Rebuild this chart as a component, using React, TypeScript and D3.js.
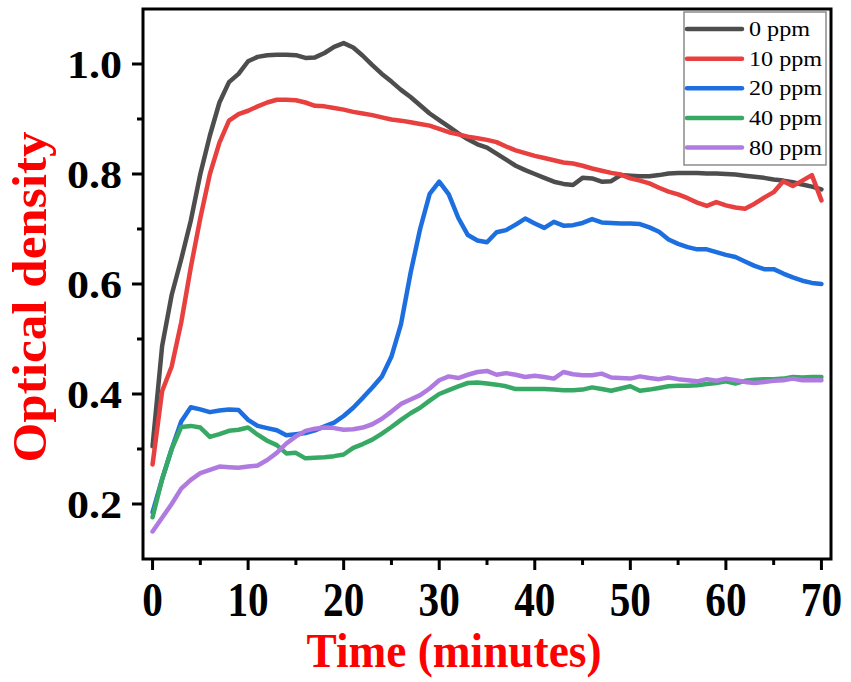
import { useEffect, useRef } from "react";
import * as d3 from "d3";

// time points, one reading per minute
const minutes = Array.from({ length: 71 }, (_, i) => i);

const od0ppm = [
  0.305, 0.487, 0.58, 0.645, 0.715, 0.8, 0.87, 0.93, 0.967, 0.982,
  1.005, 1.013, 1.016, 1.017, 1.017, 1.016, 1.011, 1.012, 1.02, 1.031,
  1.038, 1.03, 1.015, 0.998, 0.982, 0.968, 0.953, 0.94, 0.925, 0.91,
  0.898, 0.886, 0.874, 0.863, 0.854, 0.848, 0.837, 0.826, 0.815, 0.807,
  0.8, 0.793, 0.786, 0.782, 0.78, 0.793, 0.792, 0.786, 0.787, 0.798,
  0.797, 0.796, 0.796, 0.798, 0.801, 0.802, 0.802, 0.802, 0.801, 0.801,
  0.8, 0.799, 0.797, 0.795, 0.793, 0.79, 0.788, 0.785, 0.781, 0.777, 0.772,
];
const od10ppm = [
  0.272, 0.405, 0.45, 0.53, 0.63, 0.72, 0.8, 0.857, 0.897, 0.909,
  0.915, 0.923, 0.93, 0.935, 0.935, 0.934, 0.93, 0.924, 0.923, 0.92,
  0.917, 0.913, 0.91, 0.907, 0.903, 0.899, 0.897, 0.894, 0.891, 0.888,
  0.882, 0.876, 0.872, 0.868, 0.865, 0.862, 0.858, 0.85, 0.843, 0.838,
  0.833, 0.829, 0.825, 0.821, 0.819, 0.815, 0.81, 0.806, 0.802, 0.799,
  0.792, 0.788, 0.783, 0.775, 0.768, 0.763, 0.756, 0.748, 0.742, 0.749,
  0.743, 0.739, 0.737, 0.746, 0.757, 0.767, 0.787, 0.778, 0.788, 0.798, 0.752,
];
const od20ppm = [
  0.185, 0.245, 0.3, 0.35, 0.376, 0.372, 0.367, 0.37, 0.372, 0.371,
  0.353, 0.342, 0.338, 0.334, 0.325, 0.327, 0.329, 0.334, 0.341, 0.348,
  0.36, 0.375, 0.393, 0.412, 0.432, 0.468, 0.527, 0.62, 0.7, 0.764,
  0.786, 0.763, 0.72, 0.689, 0.679, 0.676, 0.694, 0.698, 0.708, 0.719,
  0.71, 0.702, 0.713, 0.706, 0.707, 0.711, 0.718, 0.712, 0.711, 0.71,
  0.71, 0.709, 0.703, 0.695, 0.681, 0.673, 0.667, 0.663, 0.663, 0.658,
  0.653, 0.649, 0.641, 0.633, 0.627, 0.627, 0.619, 0.612, 0.606, 0.602, 0.6,
];
const od40ppm = [
  0.176, 0.245, 0.3, 0.34, 0.342, 0.339, 0.322, 0.327, 0.333, 0.335,
  0.339, 0.326, 0.315, 0.307, 0.292, 0.293, 0.283, 0.284, 0.285, 0.287,
  0.29, 0.302, 0.309, 0.317, 0.328, 0.34, 0.353, 0.365, 0.375, 0.388,
  0.4, 0.407, 0.414, 0.42, 0.421, 0.419, 0.417, 0.414, 0.409, 0.409,
  0.409, 0.409, 0.408, 0.407, 0.407, 0.408, 0.412, 0.409, 0.406, 0.41,
  0.414, 0.406, 0.408, 0.411, 0.414, 0.415, 0.415, 0.416, 0.418, 0.42,
  0.423, 0.419, 0.424, 0.426, 0.427, 0.427, 0.428, 0.431, 0.43, 0.431, 0.431,
];
const od80ppm = [
  0.15, 0.175, 0.2, 0.228, 0.244, 0.256, 0.262, 0.268, 0.267, 0.266,
  0.268, 0.27, 0.28, 0.293, 0.31, 0.323, 0.333, 0.337, 0.339, 0.338,
  0.335, 0.336, 0.339, 0.345, 0.355, 0.368, 0.382, 0.39, 0.398, 0.41,
  0.425, 0.432, 0.429, 0.435, 0.44, 0.442, 0.435, 0.438, 0.435, 0.431,
  0.433, 0.431, 0.428, 0.44, 0.436, 0.434, 0.434, 0.437, 0.43, 0.429,
  0.428, 0.432, 0.429, 0.427, 0.43, 0.427, 0.425, 0.423, 0.427, 0.424,
  0.428, 0.425, 0.422, 0.42, 0.422, 0.424, 0.425, 0.428, 0.425, 0.425, 0.425,
];

const seriesLabels = ["0 ppm", "10 ppm", "20 ppm", "40 ppm", "80 ppm"];
const seriesValues = [od0ppm, od10ppm, od20ppm, od40ppm, od80ppm];
const seriesColors = ["#4d4d4d", "#e8403f", "#1d6fe0", "#37a965", "#b07be0"];

const xTicks = [0, 10, 20, 30, 40, 50, 60, 70];
const xMinorTicks = [5, 15, 25, 35, 45, 55, 65];
const yTicks = [0.2, 0.4, 0.6, 0.8, 1.0];
const yMinorTicks = [0.3, 0.5, 0.7, 0.9];

export default function App() {
  const svgRef = useRef<SVGSVGElement>(null);

  useEffect(() => {
    if (!svgRef.current) return;
    const svg = d3.select(svgRef.current);
    svg.selectAll("*").remove();

    const totalW = 851;
    const totalH = 682;
    const left = 143, right = 831, top = 9, bottom = 559;
    const font = "'Liberation Serif', 'Times New Roman', serif";

    svg.attr("width", totalW).attr("height", totalH);

    const x = d3.scaleLinear().domain([-1, 71]).range([left, right]);
    const y = d3.scaleLinear().domain([0.1, 1.1]).range([bottom, top]);

    // Lines
    const line = d3.line<number>()
      .x((_, i) => x(minutes[i]))
      .y((d) => y(d))
      .curve(d3.curveLinear);

    seriesValues.forEach((vals, si) => {
      svg.append("path")
        .datum(vals)
        .attr("d", line)
        .attr("fill", "none")
        .attr("stroke", seriesColors[si])
        .attr("stroke-width", 4.5)
        .attr("stroke-linejoin", "round")
        .attr("stroke-linecap", "round");
    });

    // Frame
    svg.append("rect")
      .attr("x", left).attr("y", top)
      .attr("width", right - left).attr("height", bottom - top)
      .attr("fill", "none").attr("stroke", "#000").attr("stroke-width", 3);

    // X ticks
    svg.selectAll(".xt").data(xTicks).enter().append("line")
      .attr("x1", (d) => x(d)).attr("x2", (d) => x(d))
      .attr("y1", bottom).attr("y2", bottom + 11)
      .attr("stroke", "#000").attr("stroke-width", 3);
    svg.selectAll(".xmt").data(xMinorTicks).enter().append("line")
      .attr("x1", (d) => x(d)).attr("x2", (d) => x(d))
      .attr("y1", bottom).attr("y2", bottom + 6)
      .attr("stroke", "#000").attr("stroke-width", 3);
    svg.selectAll(".xl").data(xTicks).enter().append("text")
      .attr("transform", (d) => `translate(${x(d)},616) scale(0.86,1)`)
      .attr("text-anchor", "middle")
      .attr("font-family", font).attr("font-weight", "bold").attr("font-size", 48)
      .attr("fill", "#000")
      .text((d) => d);

    // Y ticks
    svg.selectAll(".yt").data(yTicks).enter().append("line")
      .attr("x1", left - 11).attr("x2", left)
      .attr("y1", (d) => y(d)).attr("y2", (d) => y(d))
      .attr("stroke", "#000").attr("stroke-width", 3);
    svg.selectAll(".ymt").data(yMinorTicks).enter().append("line")
      .attr("x1", left - 6).attr("x2", left)
      .attr("y1", (d) => y(d)).attr("y2", (d) => y(d))
      .attr("stroke", "#000").attr("stroke-width", 3);
    svg.selectAll(".yl").data(yTicks).enter().append("text")
      .attr("transform", (d) => `translate(122,${y(d) + 13.7}) scale(1.1,1)`)
      .attr("text-anchor", "end")
      .attr("font-family", font).attr("font-weight", "bold").attr("font-size", 40)
      .attr("fill", "#000")
      .text((d) => d3.format(".1f")(d));

    // Axis titles
    svg.append("text")
      .attr("x", 454).attr("y", 667)
      .attr("text-anchor", "middle")
      .attr("font-family", font).attr("font-weight", "bold").attr("font-size", 48)
      .attr("fill", "#ff0000")
      .attr("textLength", 295).attr("lengthAdjust", "spacingAndGlyphs")
      .text("Time (minutes)");

    svg.append("text")
      .attr("transform", "translate(46,297) rotate(-90)")
      .attr("text-anchor", "middle")
      .attr("font-family", font).attr("font-weight", "bold").attr("font-size", 48)
      .attr("fill", "#ff0000")
      .attr("textLength", 331).attr("lengthAdjust", "spacingAndGlyphs")
      .text("Optical density");

    // Legend
    const legend = svg.append("g");
    legend.append("rect")
      .attr("x", 684).attr("y", 12).attr("width", 142).attr("height", 153)
      .attr("fill", "#fff").attr("stroke", "#8c8c8c").attr("stroke-width", 1.5);
    const rowY = d3.scaleLinear().domain([0, 4]).range([29, 147.5]);
    seriesLabels.forEach((lab, i) => {
      legend.append("line")
        .attr("x1", 687).attr("x2", 742)
        .attr("y1", rowY(i)).attr("y2", rowY(i))
        .attr("stroke", seriesColors[i]).attr("stroke-width", 4.5)
        .attr("stroke-linecap", "round");
      legend.append("text")
        .attr("transform", `translate(749,${rowY(i) + 7}) scale(1.15,1)`)
        .attr("font-family", font).attr("font-size", 21)
        .attr("fill", "#000")
        .text(lab);
    });
  }, []);

  return (
    <div style={{ position: "absolute", left: 0, top: 0, background: "#fff" }}>
      <svg ref={svgRef} width={851} height={682} style={{ display: "block" }} />
    </div>
  );
}
